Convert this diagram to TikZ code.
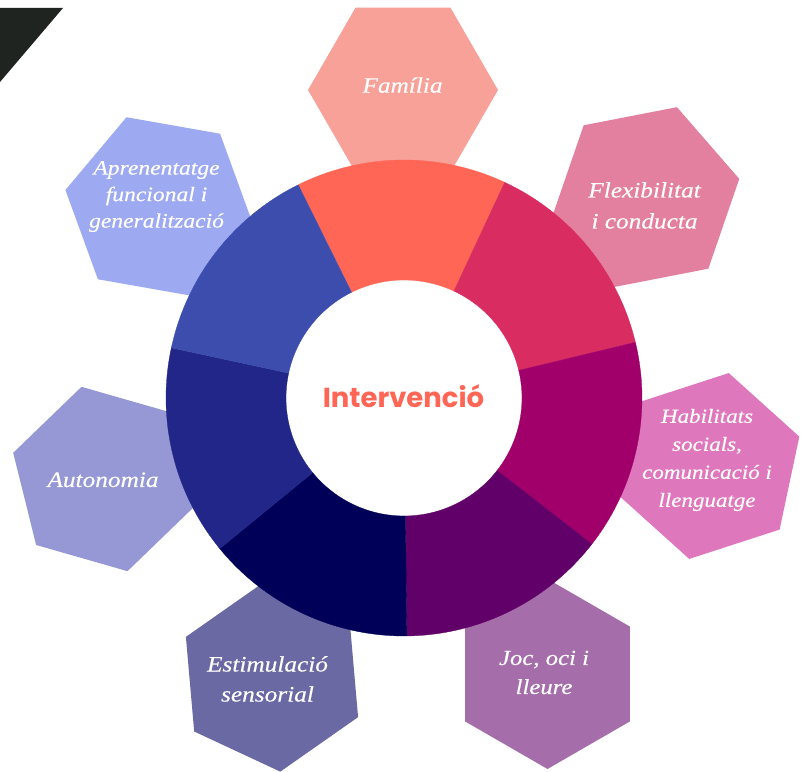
\documentclass[tikz,border=0pt]{standalone}
\usepackage{fontspec}
\newfontfamily\hexfont[FakeStretch=1.15, FakeBold=0.3]{Liberation Serif}
\newfontfamily\intfont{Poppins}
\definecolor{triblack}{HTML}{1F2421}
\definecolor{famHex}{HTML}{F7A199}\definecolor{famSeg}{HTML}{FF6655}
\definecolor{flxHex}{HTML}{E37F9F}\definecolor{flxSeg}{HTML}{D92D61}
\definecolor{habHex}{HTML}{DF77BD}\definecolor{habSeg}{HTML}{A1006A}
\definecolor{jocHex}{HTML}{A56EAB}\definecolor{jocSeg}{HTML}{610068}
\definecolor{estHex}{HTML}{6B69A3}\definecolor{estSeg}{HTML}{010059}
\definecolor{autHex}{HTML}{9598D4}\definecolor{autSeg}{HTML}{222689}
\definecolor{aprHex}{HTML}{9DA9F0}\definecolor{aprSeg}{HTML}{3C4DAE}
\definecolor{intText}{HTML}{FF6655}
\newcommand\myhex[3]{\fill[#3, shift={(#1)}] (#2:95pt) -- (#2+60:95pt) -- (#2+120:95pt) -- (#2+180:95pt) -- (#2+240:95pt) -- (#2+300:95pt) -- cycle;}
\newcommand\myseg[3]{\fill[#3, draw=#3, line width=0.3pt, shift={(C)}] (#1:238pt) arc[start angle=#1, end angle=#2, radius=238pt] -- (#2:118pt) arc[start angle=#2, end angle=#1, radius=118pt] -- cycle;}
\begin{document}
\begin{tikzpicture}[x=1pt,y=1pt,
  hexlabel/.style={text=white, align=center, inner sep=0pt}]
\useasboundingbox (0,0) rectangle (807,772);
\fill[white] (0,0) rectangle (807,772);
\fill[triblack] (0,764) -- (63,764) -- (0,690) -- cycle;
% hexagon centres
\coordinate (cFam) at (403,682);
\coordinate (cFlx) at (646,575);
\coordinate (cHab) at (709,306);
\coordinate (cJoc) at (547.5,98);
\coordinate (cEst) at (272,95);
\coordinate (cAut) at (104.5,293);
\coordinate (cApr) at (159,565.5);
\myhex{cFam}{0}{famHex}
\myhex{cFlx}{11}{flxHex}
\myhex{cHab}{18}{habHex}
\myhex{cJoc}{30}{jocHex}
\myhex{cEst}{35}{estHex}
\myhex{cAut}{44}{autHex}
\myhex{cApr}{50}{aprHex}
% ring
\coordinate (C) at (404,374);
\myseg{116.4}{64.97}{famSeg}
\myseg{64.97}{13.54}{flxSeg}
\myseg{13.54}{-37.89}{habSeg}
\myseg{-37.89}{-89.31}{jocSeg}
\myseg{-89.31}{-140.74}{estSeg}
\myseg{-140.74}{-192.17}{autSeg}
\myseg{-192.17}{-243.6}{aprSeg}
% labels
\node[font=\intfont\bfseries\fontsize{27.5}{30}\selectfont, text=intText, anchor=base] (cent) at (403.5,364) {Intervenció};
\node[hexlabel, anchor=base, font=\hexfont\itshape\fontsize{22}{30}\selectfont] (tFam) at (402.5,679.3) {Família};
\node[hexlabel, font=\hexfont\itshape\fontsize{22}{31}\selectfont] (tFlx) at (644.5,566.5) {Flexibilitat\\i conducta};
\node[hexlabel, font=\hexfont\itshape\fontsize{20}{28}\selectfont] (tHab) at (707,312) {Habilitats\\socials,\\comunicació i\\llenguatge};
\node[hexlabel, font=\hexfont\itshape\fontsize{21.5}{29}\selectfont] (tJoc) at (544,99.5) {Joc, oci i\\lleure};
\node[hexlabel, font=\hexfont\itshape\fontsize{22}{30}\selectfont] (tEst) at (267.5,93) {Estimulació\\sensorial};
\node[hexlabel, anchor=base, font=\hexfont\itshape\fontsize{22}{30}\selectfont] (tAut) at (103,285) {Autonomia};
\node[hexlabel, font=\hexfont\itshape\fontsize{20.5}{26.5}\selectfont] (tApr) at (156.5,575.5) {Aprenentatge\\funcional i\\generalització};
\end{tikzpicture}
\end{document}
